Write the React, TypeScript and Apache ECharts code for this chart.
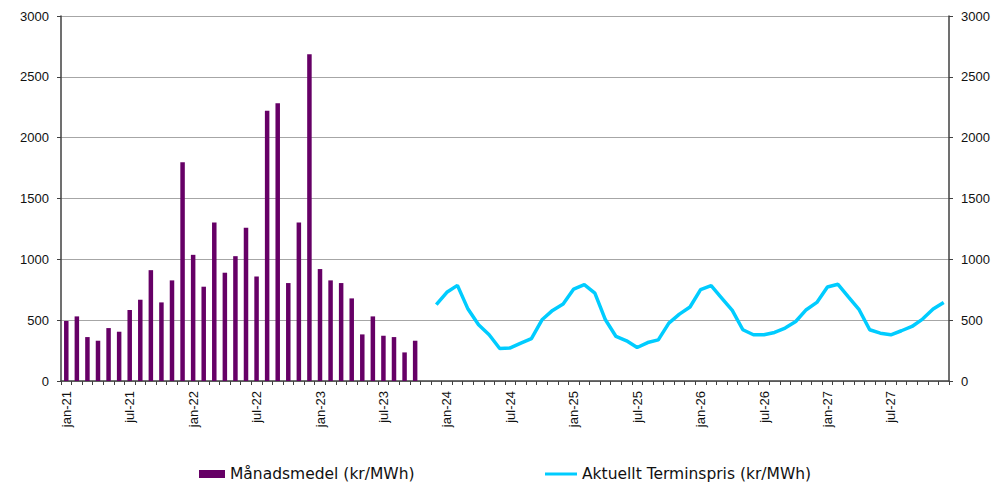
import React, { useEffect, useRef } from "react";
import * as echarts from "echarts";

const monthNames = ["jan", "feb", "mar", "apr", "maj", "jun", "jul", "aug", "sep", "okt", "nov", "dec"];
const years = ["21", "22", "23", "24", "25", "26", "27"];
const categories: string[] = years.flatMap((y) => monthNames.map((m) => `${m}-${y}`));

// Månadsmedel jan-21 .. okt-23
const monthlyAvg = [
  493, 531, 361, 331, 435, 405, 583, 668, 911, 646, 827, 1798,
  1037, 775, 1303, 890, 1026, 1259, 859, 2222, 2283, 805, 1303, 2685,
  920, 827, 805, 679, 383, 531, 372, 361, 235, 331,
];

// Aktuellt terminspris dec-23 .. dec-27
const forward = [
  627,
  729, 786, 591, 462, 380, 267, 272, 311, 349, 503, 580, 633,
  756, 792, 723, 503, 366, 330, 275, 316, 338, 476, 550, 608,
  751, 784, 682, 580, 421, 380, 380, 399, 435, 489, 586, 646,
  773, 795, 690, 586, 421, 393, 380, 413, 448, 509, 591, 646,
];

const yTicks = { min: 0, max: 3000, interval: 500 };
const barName = "Månadsmedel (kr/MWh)";
const lineName = "Aktuellt Terminspris (kr/MWh)";

export default function App() {
  const ref = useRef<HTMLDivElement>(null);
  useEffect(() => {
    if (!ref.current) return;
    const chart = echarts.init(ref.current, undefined, { renderer: "svg" });
    const n = categories.length;
    const barData = categories.map((_, i) => (i < monthlyAvg.length ? monthlyAvg[i] : null));
    const lineStart = n - forward.length;
    const lineData = categories.map((_, i) => (i >= lineStart ? forward[i - lineStart] : null));
    const font = "'Liberation Sans', Arial, sans-serif";
    const legendFont = "'DejaVu Sans', 'Liberation Sans', sans-serif";
    const axisLabel = {
      color: "#111",
      fontSize: 13,
      fontFamily: font,
      margin: 12,
      formatter: (v: number) => String(v),
    };
    const legendText = { color: "#111", fontSize: 15.5, fontFamily: legendFont, lineHeight: 16 };
    chart.setOption({
      animation: false,
      backgroundColor: "#fff",
      grid: { left: 61, right: 46, top: 16, bottom: 102, containLabel: false },
      legend: [
        {
          data: [barName],
          left: 199,
          top: 466,
          padding: 0,
          itemWidth: 26,
          itemHeight: 8,
          icon: "rect",
          textStyle: legendText,
        },
        {
          data: [lineName],
          left: 545,
          top: 466,
          padding: 0,
          itemWidth: 32,
          itemHeight: 3,
          icon: "rect",
          textStyle: legendText,
        },
      ],
      xAxis: {
        type: "category",
        data: categories,
        boundaryGap: true,
        axisLine: { lineStyle: { color: "#404040", width: 1.5 } },
        axisTick: { show: true, interval: 0, length: 4, lineStyle: { color: "#404040" } },
        axisLabel: {
          color: "#111",
          fontSize: 13,
          fontFamily: font,
          interval: 5,
          rotate: 90,
          margin: 10,
        },
      },
      yAxis: [
        {
          type: "value",
          ...yTicks,
          position: "left",
          axisLine: { show: true, lineStyle: { color: "#404040", width: 1.5 } },
          axisTick: { show: true, length: 4, lineStyle: { color: "#404040" } },
          axisLabel,
          splitLine: { show: true, lineStyle: { color: "#a6a6a6", width: 1.2 } },
        },
        {
          type: "value",
          ...yTicks,
          position: "right",
          axisLine: { show: true, lineStyle: { color: "#404040", width: 1.5 } },
          axisTick: { show: true, length: 4, lineStyle: { color: "#404040" } },
          axisLabel,
          splitLine: { show: false },
        },
      ],
      series: [
        {
          name: barName,
          type: "bar",
          data: barData,
          barWidth: 4.5,
          itemStyle: { color: "#660066" },
          yAxisIndex: 0,
        },
        {
          name: lineName,
          type: "line",
          data: lineData,
          yAxisIndex: 1,
          showSymbol: false,
          symbol: "none",
          lineStyle: { color: "#00CCFF", width: 3.5 },
          itemStyle: { color: "#00CCFF" },
        },
      ],
    });
    return () => chart.dispose();
  }, []);
  return (
    <div
      ref={ref}
      style={{ position: "fixed", left: 0, top: 0, width: 995, height: 483 }}
    />
  );
}
